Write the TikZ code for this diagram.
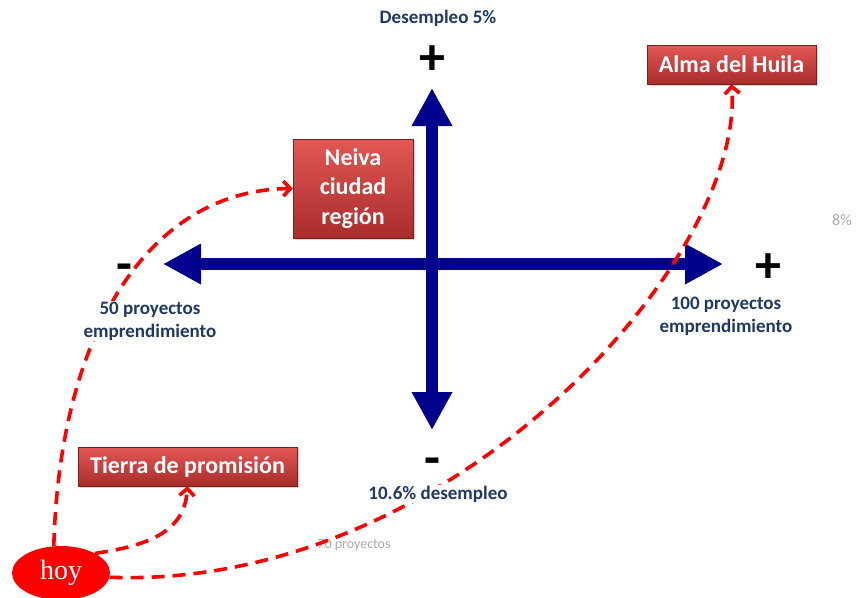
\documentclass[tikz,border=0pt]{standalone}
\usepackage{fontspec}
\setmainfont{Carlito}
\newfontfamily\hoyfont{Liberation Serif}
\usetikzlibrary{arrows.meta,shadows,shapes.geometric}
\definecolor{ejeazul}{RGB}{0,0,140}
\definecolor{textoazul}{RGB}{31,56,100}
\definecolor{rojoarriba}{RGB}{226,88,84}
\definecolor{rojoabajo}{RGB}{168,44,44}
\definecolor{grisclaro}{RGB}{170,170,170}
\tikzset{
    caja/.style={shade,top color=rojoarriba,bottom color=rojoabajo,draw=rojoabajo!70!black,
        text=white,font=\bfseries\fontsize{24}{29.5}\selectfont,align=center,inner sep=0pt,
        drop shadow={shadow xshift=2pt,shadow yshift=-2pt,opacity=0.35}},
    camino/.style={draw=red,line width=3.6pt,dash pattern=on 13pt off 8pt,
        -{Straight Barb[length=7pt,width=15pt]}}
}
\begin{document}
\begin{tikzpicture}[x=1pt,y=-1pt]
        \useasboundingbox (0,0) rectangle (856,597);
        \begin{scope}
            \coordinate (arriba) at (432,88);
            \coordinate (abajo) at (432,430);
            \coordinate (izq) at (163,264);
            \coordinate (der) at (723,264);
        \end{scope}
        \begin{scope}[every path/.style={draw=ejeazul,line width=12pt,
            {Triangle[width=38pt,length=38pt]}-{Triangle[width=38pt,length=38pt]}}]
            \path (izq) -- (der);
            \path (abajo) -- (arriba);
        \end{scope}
        \begin{scope}[every node/.style={font=\bfseries\fontsize{52}{52}\selectfont}]
            \node (masarriba) at (432,60) {+};
            \node (menosabajo) at (432,467) {-};
            \node (menosizq) at (124,273) {-};
            \node (masder) at (768,268) {+};
        \end{scope}
        \begin{scope}[every node/.style={text=grisclaro}]
            \node (ocho) [font=\fontsize{16}{19}\selectfont] at (842,220) {8\%};
            \node (setenta) [font=\fontsize{14}{17}\selectfont] at (354,545) {70 proyectos};
        \end{scope}
        \begin{scope}[every node/.style={caja}]
            \node (neiva) [minimum width=120pt,minimum height=99pt] at (353,188.5) {Neiva\\ciudad\\región};
            \node (alma) [minimum width=169pt,minimum height=39pt] at (731.5,64.5) {Alma del Huila};
            \node (tierra) [minimum width=219pt,minimum height=39pt] at (187.5,466.5) {Tierra de promisión};
        \end{scope}
        \node (hoy) [ellipse,fill=red,text=white,minimum width=98pt,minimum height=54pt,inner sep=0pt,
            font=\hoyfont\fontsize{28}{28}\selectfont] at (61,573) {hoy};
        \begin{scope}[every path/.style={camino}]
            \path (hoy.105) .. controls +(6,-216) and +(-143,1.5) .. (neiva.west);
            \path (hoy.30) .. controls +(55,-8) and +(-3,45) .. (tierra.south);
            \path (hoy.355) .. controls +(341,13) and +(13.5,176) .. (alma.south);
        \end{scope}
        \begin{scope}[every node/.style={text=textoazul,fill=white,align=center,inner sep=1pt,
            font=\bfseries\fontsize{19}{23}\selectfont}]
            \node (cinco) at (438,18) {Desempleo 5\%};
            \node (cincuenta) at (150,321) {50 proyectos\\emprendimiento};
            \node (cien) at (726,316) {100 proyectos\\emprendimiento};
            \node (diez) at (438,494) {10.6\% desempleo};
        \end{scope}
    \end{tikzpicture}
\end{document}
